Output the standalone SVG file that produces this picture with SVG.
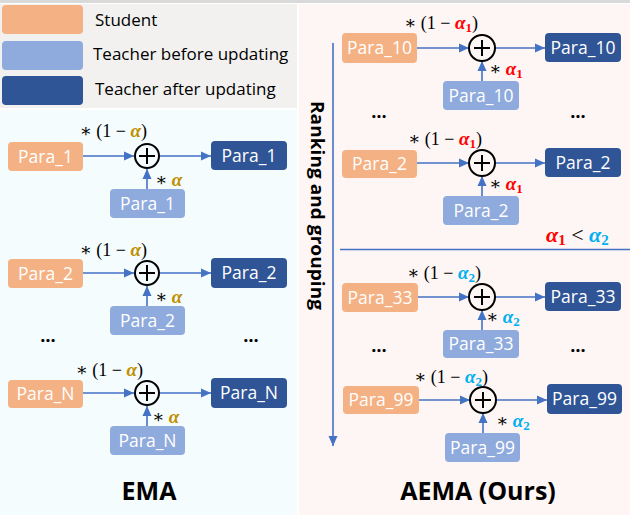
<svg xmlns="http://www.w3.org/2000/svg" width="630" height="515" viewBox="0 0 630 515">
<defs>
<marker id="ah" viewBox="0 0 10 10" refX="10" refY="5" markerUnits="userSpaceOnUse" markerWidth="10" markerHeight="10" orient="auto">
<path d="M0,0.5 L10,5 L0,9.5 z" fill="#4472c4"/>
</marker>
<style>
.stu{fill:#f4b183}
.tb{fill:#8faadc}
.ta{fill:#2f5597}
.bt{fill:#fff;font-family:"Open Sans","Liberation Sans",sans-serif;font-size:17.5px;text-anchor:middle}
.lg{fill:#000;font-family:"Open Sans","Liberation Sans",sans-serif;font-size:17px}
.ar{stroke:#4472c4;stroke-width:1.6;fill:none;marker-end:url(#ah)}
.cir{fill:none;stroke:#000;stroke-width:2}
.m{font-family:"Liberation Serif","DejaVu Serif",serif;font-size:18px;fill:#000}
.a{font-weight:bold;font-style:italic;font-size:19px}
.s{font-style:normal;font-weight:bold;font-size:13px}
.g{fill:#bf9000}
.r{fill:#ff0000}
.c{fill:#00b0f0}
.dots{font-family:"Open Sans","Liberation Sans",sans-serif;font-size:18px;font-weight:bold;text-anchor:middle;fill:#000}
.title{font-family:"Open Sans","Liberation Sans",sans-serif;font-size:25px;font-weight:bold;text-anchor:middle;fill:#000}
</style>
</defs>
<rect x="0" y="0" width="630" height="515" fill="#ffffff"/>
<rect x="0" y="0" width="630" height="3" fill="#d9d9d9"/>
<rect x="0" y="4" width="297" height="104" fill="#f2f1ef"/>
<rect x="0" y="110" width="297" height="405" fill="#f4fcfe"/>
<rect x="299" y="4" width="331" height="511" fill="#fef6f4"/>

<g id="legend">
<rect class="stu" x="2" y="5" width="81" height="29" rx="4"/>
<rect class="tb" x="2" y="41" width="81" height="29" rx="4"/>
<rect class="ta" x="2" y="76" width="81" height="29" rx="4"/>
<text class="lg" x="95" y="26">Student</text>
<text class="lg" x="93" y="60">Teacher before updating</text>
<text class="lg" x="95" y="95">Teacher after updating</text>
</g>

<g id="connectors">
<line class="ar" x1="83" y1="156" x2="134" y2="156"/>
<line class="ar" x1="160" y1="156" x2="211" y2="156"/>
<line class="ar" x1="147" y1="189" x2="147" y2="169"/>
<line class="ar" x1="83" y1="273" x2="134" y2="273"/>
<line class="ar" x1="160" y1="273" x2="211" y2="273"/>
<line class="ar" x1="147" y1="306" x2="147" y2="286"/>
<line class="ar" x1="83" y1="393" x2="134" y2="393"/>
<line class="ar" x1="160" y1="393" x2="211" y2="393"/>
<line class="ar" x1="147" y1="426" x2="147" y2="406"/>
<line class="ar" x1="417" y1="48" x2="469" y2="48"/>
<line class="ar" x1="495" y1="48" x2="545" y2="48"/>
<line class="ar" x1="482" y1="81" x2="482" y2="61"/>
<line class="ar" x1="417" y1="163" x2="469" y2="163"/>
<line class="ar" x1="495" y1="163" x2="545" y2="163"/>
<line class="ar" x1="482" y1="196" x2="482" y2="176"/>
<line class="ar" x1="418" y1="297" x2="469" y2="297"/>
<line class="ar" x1="495" y1="297" x2="545" y2="297"/>
<line class="ar" x1="482" y1="330" x2="482" y2="310"/>
<line class="ar" x1="419" y1="400" x2="470" y2="400"/>
<line class="ar" x1="496" y1="400" x2="547" y2="400"/>
<line class="ar" x1="483" y1="433" x2="483" y2="413"/>
<line class="ar" x1="333" y1="43" x2="333" y2="446"/>
<line x1="340" y1="249.5" x2="630" y2="249.5" stroke="#4472c4" stroke-width="1.5"/>
</g>

<g id="ema-stu-1"><rect class="stu" x="8" y="142" width="75" height="29" rx="4"/><text class="bt" x="45.5" y="162.5">Para_1</text></g>
<g id="ema-sum-1"><circle class="cir" cx="147" cy="156" r="12"/><path d="M139,156H155M147,148V164" stroke="#000" stroke-width="2"/></g>
<g id="ema-ta-1"><rect class="ta" x="211" y="141" width="76" height="29" rx="4"/><text class="bt" x="249" y="161.5">Para_1</text></g>
<g id="ema-tb-1"><rect class="tb" x="110" y="189" width="75" height="29" rx="4"/><text class="bt" x="147.5" y="209.5">Para_1</text></g>
<text class="m" x="147" y="137" text-anchor="end">∗ (1 − <tspan class="a g">α</tspan>)</text>
<text class="m" x="155" y="186">∗ <tspan class="a g">α</tspan></text>

<g id="ema-stu-2"><rect class="stu" x="8" y="259" width="75" height="29" rx="4"/><text class="bt" x="45.5" y="279.5">Para_2</text></g>
<g id="ema-sum-2"><circle class="cir" cx="147" cy="273" r="12"/><path d="M139,273H155M147,265V281" stroke="#000" stroke-width="2"/></g>
<g id="ema-ta-2"><rect class="ta" x="211" y="258" width="76" height="30" rx="4"/><text class="bt" x="249" y="279">Para_2</text></g>
<g id="ema-tb-2"><rect class="tb" x="110" y="306" width="75" height="29" rx="4"/><text class="bt" x="147.5" y="326.5">Para_2</text></g>
<text class="m" x="147" y="256" text-anchor="end">∗ (1 − <tspan class="a g">α</tspan>)</text>
<text class="m" x="155" y="303">∗ <tspan class="a g">α</tspan></text>

<text class="dots" x="48" y="342">…</text>
<text class="dots" x="251" y="342">…</text>

<g id="ema-stu-n"><rect class="stu" x="8" y="380" width="75" height="28" rx="4"/><text class="bt" x="45.5" y="400">Para_N</text></g>
<g id="ema-sum-n"><circle class="cir" cx="147" cy="393" r="12"/><path d="M139,393H155M147,385V401" stroke="#000" stroke-width="2"/></g>
<g id="ema-ta-n"><rect class="ta" x="211" y="378" width="76" height="30" rx="4"/><text class="bt" x="249" y="399">Para_N</text></g>
<g id="ema-tb-n"><rect class="tb" x="110" y="426" width="75" height="29" rx="4"/><text class="bt" x="147.5" y="446.5">Para_N</text></g>
<text class="m" x="143" y="376" text-anchor="end">∗ (1 − <tspan class="a g">α</tspan>)</text>
<text class="m" x="152" y="423">∗ <tspan class="a g">α</tspan></text>

<text class="title" x="149" y="500">EMA</text>

<text transform="translate(311,101) rotate(90)" font-family="'Open Sans','Liberation Sans',sans-serif" font-size="17" font-weight="bold" fill="#000" textLength="209" lengthAdjust="spacingAndGlyphs">Ranking and grouping</text>

<g id="aema-stu-10"><rect class="stu" x="342" y="33" width="75" height="30" rx="4"/><text class="bt" x="379.5" y="54">Para_10</text></g>
<g id="aema-sum-10"><circle class="cir" cx="482" cy="48" r="13"/><path d="M474,48H490M482,40V56" stroke="#000" stroke-width="2"/></g>
<g id="aema-ta-10"><rect class="ta" x="545" y="33" width="76" height="29" rx="4"/><text class="bt" x="583" y="53.5">Para_10</text></g>
<g id="aema-tb-10"><rect class="tb" x="443" y="81" width="76" height="29" rx="4"/><text class="bt" x="481" y="101.5">Para_10</text></g>
<text class="m" x="404" y="29">∗ (1 − <tspan class="a r">α<tspan class="s" dy="3">1</tspan></tspan><tspan dy="-3">)</tspan></text>
<text class="m" x="489" y="75">∗ <tspan class="a r">α<tspan class="s" dy="3">1</tspan></tspan></text>

<text class="dots" x="379" y="118">…</text>
<text class="dots" x="578" y="118">…</text>

<g id="aema-stu-2"><rect class="stu" x="342" y="150" width="75" height="28" rx="4"/><text class="bt" x="379.5" y="170">Para_2</text></g>
<g id="aema-sum-2"><circle class="cir" cx="482" cy="163" r="13"/><path d="M474,163H490M482,155V171" stroke="#000" stroke-width="2"/></g>
<g id="aema-ta-2"><rect class="ta" x="545" y="148" width="76" height="29" rx="4"/><text class="bt" x="583" y="168.5">Para_2</text></g>
<g id="aema-tb-2"><rect class="tb" x="443" y="196" width="76" height="29" rx="4"/><text class="bt" x="481" y="216.5">Para_2</text></g>
<text class="m" x="408" y="145">∗ (1 − <tspan class="a r">α<tspan class="s" dy="3">1</tspan></tspan><tspan dy="-3">)</tspan></text>
<text class="m" x="489" y="190">∗ <tspan class="a r">α<tspan class="s" dy="3">1</tspan></tspan></text>

<text font-family="'Liberation Serif',serif" font-size="22" x="546" y="242"><tspan font-weight="bold" font-style="italic" fill="#ff0000">α<tspan font-style="normal" font-size="15" dy="3">1</tspan></tspan><tspan dy="-3"> &lt; </tspan><tspan font-weight="bold" font-style="italic" fill="#00b0f0">α<tspan font-style="normal" font-size="15" dy="3">2</tspan></tspan></text>

<g id="aema-stu-33"><rect class="stu" x="342" y="283" width="76" height="29" rx="4"/><text class="bt" x="380" y="303.5">Para_33</text></g>
<g id="aema-sum-33"><circle class="cir" cx="482" cy="297" r="13"/><path d="M474,297H490M482,289V305" stroke="#000" stroke-width="2"/></g>
<g id="aema-ta-33"><rect class="ta" x="545" y="282" width="76" height="29" rx="4"/><text class="bt" x="583" y="302.5">Para_33</text></g>
<g id="aema-tb-33"><rect class="tb" x="443" y="330" width="76" height="28" rx="4"/><text class="bt" x="481" y="350">Para_33</text></g>
<text class="m" x="407" y="279">∗ (1 − <tspan class="a c">α<tspan class="s" dy="3">2</tspan></tspan><tspan dy="-3">)</tspan></text>
<text class="m" x="486" y="323">∗ <tspan class="a c">α<tspan class="s" dy="3">2</tspan></tspan></text>

<text class="dots" x="379" y="352">…</text>
<text class="dots" x="578" y="352">…</text>

<g id="aema-stu-99"><rect class="stu" x="343" y="386" width="76" height="28" rx="4"/><text class="bt" x="381" y="406">Para_99</text></g>
<g id="aema-sum-99"><circle class="cir" cx="483" cy="400" r="13"/><path d="M475,400H491M483,392V408" stroke="#000" stroke-width="2"/></g>
<g id="aema-ta-99"><rect class="ta" x="547" y="384" width="75" height="30" rx="4"/><text class="bt" x="584.5" y="405">Para_99</text></g>
<g id="aema-tb-99"><rect class="tb" x="445" y="433" width="75" height="29" rx="4"/><text class="bt" x="482.5" y="453.5">Para_99</text></g>
<text class="m" x="414" y="383">∗ (1 − <tspan class="a c">α<tspan class="s" dy="3">2</tspan></tspan><tspan dy="-3">)</tspan></text>
<text class="m" x="496" y="427">∗ <tspan class="a c">α<tspan class="s" dy="3">2</tspan></tspan></text>

<text class="title" x="478" y="500">AEMA (Ours)</text>
</svg>
